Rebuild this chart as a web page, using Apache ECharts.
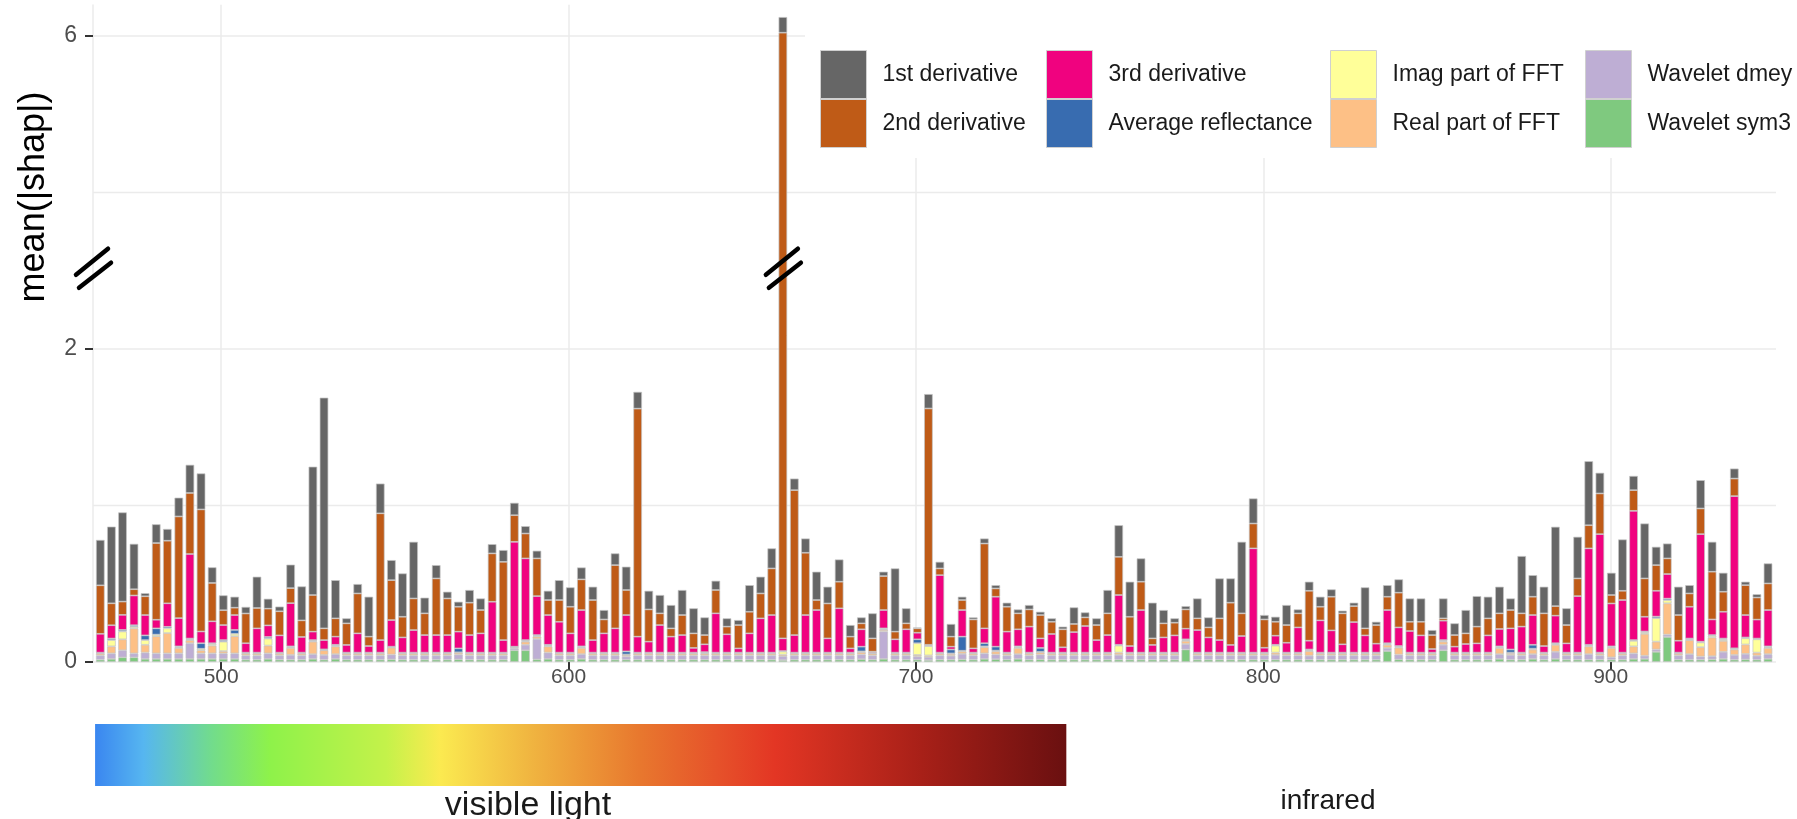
<!DOCTYPE html>
<html><head><meta charset="utf-8">
<script src="https://cdn.jsdelivr.net/npm/echarts@6/dist/echarts.min.js"></script>
<style>html,body{margin:0;padding:0;background:#fff}#c{width:1797px;height:819px}</style>
</head><body><div id="c"></div>
<script>
// ---------------- DATA ----------------
const wavelengths = [
465.2,468.4,471.6,474.9,478.1,481.3,484.5,487.8,491.0,494.2,
497.4,500.6,503.9,507.1,510.3,513.5,516.8,520.0,523.2,526.4,
529.6,532.9,536.1,539.3,542.5,545.8,549.0,552.2,555.4,558.6,
561.9,565.1,568.3,571.5,574.7,578.0,581.2,584.4,587.6,590.9,
594.1,597.3,600.5,603.7,607.0,610.2,613.4,616.6,619.9,623.1,
626.3,629.5,632.7,636.0,639.2,642.4,645.6,648.9,652.1,655.3,
658.5,661.7,665.0,668.2,671.4,674.6,677.9,681.1,684.3,687.5,
690.7,694.0,697.2,700.4,703.6,706.9,710.1,713.3,716.5,719.7,
723.0,726.2,729.4,732.6,735.8,739.1,742.3,745.5,748.7,752.0,
755.2,758.4,761.6,764.8,768.1,771.3,774.5,777.7,781.0,784.2,
787.4,790.6,793.8,797.1,800.3,803.5,806.7,810.0,813.2,816.4,
819.6,822.8,826.1,829.3,832.5,835.7,839.0,842.2,845.4,848.6,
851.8,855.1,858.3,861.5,864.7,868.0,871.2,874.4,877.6,880.8,
884.1,887.3,890.5,893.7,896.9,900.2,903.4,906.6,909.8,913.1,
916.3,919.5,922.7,925.9,929.2,932.4,935.6,938.8,942.1,945.3];

const deriv1 = [
.29,.49,.57,.29,.02,.12,.075,.12,.18,.23,
.10,.095,.07,.042,.20,.063,.03,.15,.217,.82,
1.474,.244,.032,.06,.255,.19,.128,.277,.362,.10,
.085,.043,.032,.081,.074,.059,.075,.079,.047,.049,
.059,.127,.124,.076,.085,.06,.075,.149,.107,.119,
.117,.149,.16,.16,.113,.059,.053,.032,.17,.107,
.128,.10,.074,.091,.181,.107,.142,.074,.038,.16,
.028,.404,.096,.005,.092,.042,.081,.021,.013,.032,
.021,.026,.025,.028,.021,.022,.017,.106,.032,.043,
.149,.202,.224,.149,.228,.085,.028,.021,.127,.064,
.255,.155,.457,.16,.028,.032,.128,.025,.058,.064,
.047,.017,.022,.262,.021,.074,.085,.149,.149,.032,
.127,.075,.149,.195,.138,.17,.074,.366,.138,.17,
.507,.107,.266,.409,.132,.142,.328,.091,.351,.117,
.095,.181,.053,.181,.191,.121,.064,.022,.021,.128];

const deriv2 = [
.31,.14,.085,.04,.12,.49,.40,.65,.39,.78,
.245,.095,.047,.19,.13,.107,.154,.096,.106,.234,
.075,.117,.138,.255,.06,.81,.255,.132,.202,.139,
.362,.234,.159,.207,.149,.309,.50,.17,.159,.241,
.096,.139,.17,.196,.256,.089,.404,.16,1.457,.206,
.075,.053,.128,.093,.059,.149,.049,.149,.138,.159,
.298,5.87,.926,.398,.064,.223,.17,.075,.038,.085,
.217,.049,.038,.028,1.51,.043,.064,.064,.185,.542,
.053,.159,.102,.11,.149,.078,.115,.052,.055,.096,
.139,.244,.187,.181,.042,.09,.081,.123,.075,.064,
.139,.27,.145,.159,.181,.089,.113,.09,.319,.087,
.215,.198,.102,.045,.119,.085,.222,.059,.087,.089,
.015,.074,.068,.107,.109,.10,.117,.085,.117,.209,
.061,.117,.113,.148,.26,.054,.059,.132,.245,.164,
.10,.164,.085,.164,.305,.128,.112,.191,.141,.17];

const deriv3 = [
.12,.085,.096,.19,.13,.055,.15,.18,.54,.075,
.14,.096,.095,.06,.155,.074,.11,.276,.10,.054,
.059,.052,.049,.123,.042,.08,.17,.097,.144,.112,
.112,.112,.107,.112,.123,.325,.08,.67,.522,.249,
.19,.197,.123,.232,.08,.123,.155,.232,.102,.07,
.176,.102,.112,.03,.05,.251,.117,.027,.123,.219,
.24,.081,.112,.24,.272,.091,.283,.027,.111,.006,
.117,.085,.149,.042,.005,.495,.018,.17,.027,.095,
.319,.134,.109,.166,.061,.119,.034,.131,.17,.08,
.112,.318,.042,.272,.049,.097,.11,.068,.144,.097,
.08,.049,.106,.666,.031,.058,.063,.161,.056,.206,
.142,.053,.195,.11,.057,.212,.119,.138,.11,.023,
.124,.038,.055,.059,.11,.111,.135,.166,.19,.042,
.176,.059,.361,.616,.757,.274,.336,.826,.094,.165,
.157,.076,.203,.687,.10,.171,.972,.143,.121,.232];

const avgReflectance = [
.003,.01,.01,.01,.03,.04,.01,.005,.005,.035,
.005,.01,.025,.003,.003,.01,.003,.005,.003,.005,
.003,.005,.003,.003,.003,.003,.003,.003,.003,.003,
.003,.003,.025,.003,.003,.003,.003,.003,.005,.005,
.005,.003,.003,.005,.003,.003,.003,.02,.003,.003,
.003,.003,.003,.003,.006,.003,.003,.003,.003,.003,
.003,.003,.003,.003,.003,.003,.003,.003,.03,.003,
.005,.003,.003,.025,.003,.003,.025,.09,.003,.02,
.025,.003,.005,.003,.025,.003,.003,.003,.003,.003,
.003,.005,.003,.003,.003,.003,.003,.005,.003,.003,
.003,.003,.003,.003,.003,.005,.003,.003,.005,.003,
.003,.003,.003,.003,.003,.005,.005,.003,.003,.003,
.005,.003,.003,.003,.003,.005,.02,.003,.025,.003,
.005,.003,.003,.005,.003,.005,.003,.005,.005,.01,
.01,.003,.005,.005,.005,.005,.003,.005,.005,.005];

const imagFFT = [
.003,.04,.05,.01,.03,.01,.03,.005,.005,.01,
.01,.06,.015,.003,.003,.045,.003,.005,.003,.005,
.003,.005,.003,.003,.003,.003,.003,.003,.003,.003,
.003,.003,.003,.003,.003,.003,.003,.003,.005,.005,
.005,.003,.003,.005,.003,.003,.003,.003,.003,.003,
.003,.003,.003,.003,.003,.003,.003,.003,.003,.003,
.003,.02,.003,.003,.003,.003,.003,.003,.005,.003,
.005,.003,.003,.075,.06,.003,.003,.005,.003,.005,
.005,.003,.005,.003,.003,.003,.003,.003,.003,.003,
.003,.045,.003,.003,.003,.003,.003,.005,.003,.003,
.003,.003,.003,.003,.003,.045,.003,.003,.005,.003,
.003,.003,.003,.003,.003,.005,.005,.003,.003,.003,
.005,.003,.003,.003,.003,.005,.003,.003,.005,.003,
.005,.003,.003,.005,.003,.005,.003,.035,.01,.15,
.02,.003,.005,.03,.01,.01,.005,.04,.085,.005];

const realFFT = [
.012,.045,.07,.16,.05,.11,.13,.035,.02,.02,
.05,.015,.11,.012,.012,.05,.012,.045,.012,.08,
.03,.05,.012,.012,.012,.012,.045,.012,.012,.012,
.012,.012,.012,.012,.012,.012,.012,.005,.02,.015,
.04,.012,.012,.04,.012,.012,.012,.01,.012,.012,
.012,.012,.012,.012,.012,.012,.012,.012,.012,.012,
.012,.01,.012,.012,.012,.012,.012,.012,.015,.012,
.01,.012,.012,.01,.01,.012,.012,.015,.012,.04,
.02,.012,.04,.012,.015,.012,.012,.012,.012,.012,
.012,.015,.012,.012,.012,.012,.012,.02,.012,.012,
.012,.012,.012,.012,.012,.015,.012,.012,.03,.012,
.012,.012,.012,.012,.012,.02,.045,.012,.012,.012,
.02,.012,.012,.012,.012,.04,.012,.012,.03,.012,
.045,.012,.012,.05,.012,.06,.012,.045,.14,.05,
.2,.012,.09,.06,.12,.07,.035,.06,.02,.04];

const waveletDmey = [
.027,.035,.045,.025,.04,.035,.035,.035,.1,.035,
.035,.035,.035,.027,.027,.035,.027,.03,.027,.03,
.03,.03,.027,.027,.027,.027,.03,.027,.027,.027,
.027,.027,.03,.027,.027,.027,.027,.012,.035,.13,
.04,.027,.027,.03,.027,.027,.027,.02,.027,.027,
.027,.027,.027,.027,.027,.027,.027,.027,.027,.027,
.027,.025,.027,.027,.027,.027,.027,.027,.03,.027,
.175,.027,.027,.02,.02,.027,.025,.035,.027,.035,
.03,.027,.03,.027,.03,.027,.027,.027,.027,.027,
.027,.03,.027,.027,.027,.027,.027,.035,.027,.027,
.027,.027,.027,.027,.027,.03,.027,.027,.025,.027,
.027,.027,.027,.027,.027,.02,.03,.027,.027,.027,
.035,.027,.027,.027,.027,.03,.03,.027,.03,.027,
.045,.027,.027,.035,.027,.015,.027,.035,.02,.015,
.015,.027,.035,.02,.02,.045,.03,.035,.025,.03];

const waveletSym3 = [
.015,.02,.03,.03,.02,.02,.02,.02,.02,.02,
.02,.02,.02,.015,.015,.02,.015,.015,.015,.02,
.015,.02,.015,.015,.015,.015,.017,.015,.015,.015,
.015,.015,.017,.015,.015,.015,.015,.075,.075,.017,
.02,.015,.015,.02,.015,.015,.015,.015,.015,.015,
.015,.015,.015,.015,.015,.015,.015,.015,.015,.015,
.015,.012,.015,.015,.015,.015,.015,.015,.018,.015,
.02,.015,.015,.015,.012,.015,.015,.017,.015,.02,
.018,.015,.02,.015,.017,.015,.015,.015,.015,.015,
.015,.015,.015,.015,.015,.015,.015,.08,.015,.015,
.015,.015,.015,.015,.015,.015,.015,.015,.015,.015,
.015,.015,.015,.015,.015,.07,.017,.015,.015,.015,
.075,.015,.015,.015,.015,.02,.015,.015,.02,.015,
.02,.015,.015,.015,.015,.015,.015,.02,.02,.065,
.16,.015,.015,.015,.017,.02,.015,.017,.015,.02];

const legendNames = ['1st derivative','2nd derivative','3rd derivative','Average reflectance',
  'Imag part of FFT','Real part of FFT','Wavelet dmey','Wavelet sym3'];
const xTickValues = [500, 600, 700, 800, 900];
const yTickValues = [0, 2, 6];
const yMinorGrid = [1, 5];
const yTitle = 'mean(|shap|)';
const bandLabels = ['visible light', 'infrared'];

// ---------------- CHART ----------------
const FONT = "'Liberation Sans', Arial, Helvetica, sans-serif";
const GRID = '#ebebeb';
const colors = {
  '1st derivative':'#666666','2nd derivative':'#BF5B17','3rd derivative':'#F0027F',
  'Average reflectance':'#386CB0','Imag part of FFT':'#FFFF99','Real part of FFT':'#FDC086',
  'Wavelet dmey':'#BEAED4','Wavelet sym3':'#7FC97F'
};
// stacking order: bottom -> top
const stackOrder = [
  ['Wavelet sym3', waveletSym3], ['Wavelet dmey', waveletDmey], ['Real part of FFT', realFFT],
  ['Imag part of FFT', imagFFT], ['Average reflectance', avgReflectance],
  ['3rd derivative', deriv3], ['2nd derivative', deriv2], ['1st derivative', deriv1]
];

const chart = echarts.init(document.getElementById('c'), null, {renderer:'canvas'});

const legendCommon = {
  orient:'vertical', top: 50, padding: 0, itemWidth: 46, itemHeight: 48, itemGap: 0,
  icon: 'rect', selectedMode: false,
  itemStyle: {borderColor:'#d0d0d0', borderWidth: 1},
  textStyle: {fontFamily: FONT, fontSize: 23, color:'#1a1a1a', padding:[0,0,0,11]}
};

chart.setOption({
  animation: false,
  backgroundColor: '#fff',
  grid: {left: 93, right: 21, top: 4.7, bottom: 157, containLabel: false},
  xAxis: {
    type: 'value', min: 463.1, max: 947.6,
    axisLine: {show: false},
    axisTick: {show: true, customValues: xTickValues, length: 8, lineStyle: {color:'#333', width: 2}},
    axisLabel: {customValues: xTickValues, fontFamily: FONT, fontSize: 21, color:'#4d4d4d', margin: 5},
    splitLine: {show: true, lineStyle: {color: GRID, width: 1.5}}
  },
  yAxis: {
    type: 'value', min: 0, max: 6.2,
    breaks: [{start: 2.5, end: 4.5, gap: 0}],
    breakArea: {show: false},
    axisLine: {show: true, lineStyle: {color: GRID, width: 1.5}},
    axisTick: {show: true, customValues: yTickValues, length: 8, lineStyle: {color:'#333', width: 2}},
    axisLabel: {customValues: yTickValues, fontFamily: FONT, fontSize: 23, color:'#4d4d4d', margin: 16},
    splitLine: {show: true, lineStyle: {color: GRID, width: 1.5}}
  },
  legend: [
    Object.assign({}, legendCommon, {left: 820, data: legendNames.slice(0,2)}),
    Object.assign({}, legendCommon, {left: 1046, data: legendNames.slice(2,4)}),
    Object.assign({}, legendCommon, {left: 1330, data: legendNames.slice(4,6)}),
    Object.assign({}, legendCommon, {left: 1585, data: legendNames.slice(6,8)})
  ],
  series: stackOrder.map(([name, vals]) => ({
    name, type: 'bar', stack: 'total', barWidth: 8.6,
    encode: {x: 1, y: 0},
    data: wavelengths.map((w, i) => [vals[i], w]),
    itemStyle: {color: colors[name], borderColor: '#c4c4c4', borderWidth: 0.7},
    emphasis: {disabled: true}
  }))
});

// ---------------- DECORATIONS ----------------
function px(x, y) { return chart.convertToPixel({gridIndex: 0}, [x, y]); }
const axisBreak = px(463.1, 2.5);
const barBreak = px(wavelengths[61], 2.5);
function breakMark(c) {
  const cx = c[0], cy = c[1] - 2;
  const st = {stroke:'#000', lineWidth: 4.5, lineCap:'round'};
  return [
    {type:'line', z: 20, shape:{x1:cx-17, y1:cy+6, x2:cx+15, y2:cy-20}, style: st},
    {type:'line', z: 20, shape:{x1:cx-14, y1:cy+19, x2:cx+18, y2:cy-6}, style: st}
  ];
}
const gridL = px(463.1, 0)[0], gridR = px(947.6, 0)[0];
const minorLines = yMinorGrid.map(v => {
  const y = px(463.1, v)[1];
  return {type:'line', z: 0, shape:{x1: gridL, y1: y, x2: gridR, y2: y},
    style:{stroke: GRID, lineWidth: 1.5}};
});
const visL = px(463.7, 0)[0], visR = px(743.3, 0)[0];
chart.setOption({
  graphic: minorLines.concat([
    {type:'rect', z: 1, shape:{x: 805, y: 0, width: 992, height: 158}, style:{fill:'#fff'}},
    {type:'rect', z: 1, shape:{x: visL, y: 724, width: visR - visL, height: 62},
      style:{fill: new echarts.graphic.LinearGradient(0,0,1,0,[
        {offset:0, color:'#3a86f0'},{offset:0.05, color:'#56b6f0'},{offset:0.12, color:'#72dc8c'},
        {offset:0.18, color:'#8ef24a'},{offset:0.30, color:'#c4f24a'},{offset:0.355, color:'#fbea50'},
        {offset:0.45, color:'#f0b440'},{offset:0.56, color:'#e8782e'},{offset:0.64, color:'#e6522a'},
        {offset:0.70, color:'#e33624'},{offset:0.85, color:'#a82018'},{offset:1, color:'#6a1010'}])}},
    {type:'text', z: 5, x: 528, y: 789, style:{text: bandLabels[0], font: '34px ' + FONT,
      fill:'#1a1a1a', textAlign:'center', textVerticalAlign:'top'}},
    {type:'text', z: 5, x: 1328, y: 787, style:{text: bandLabels[1], font: '28px ' + FONT,
      fill:'#1a1a1a', textAlign:'center', textVerticalAlign:'top'}},
    {type:'text', z: 5, x: 34, y: 197, rotation: Math.PI/2, style:{text: yTitle, font: '36px ' + FONT,
      fill:'#000', textAlign:'center', textVerticalAlign:'middle'}}
  ], breakMark(axisBreak), breakMark(barBreak))
});
</script>
</body></html>
